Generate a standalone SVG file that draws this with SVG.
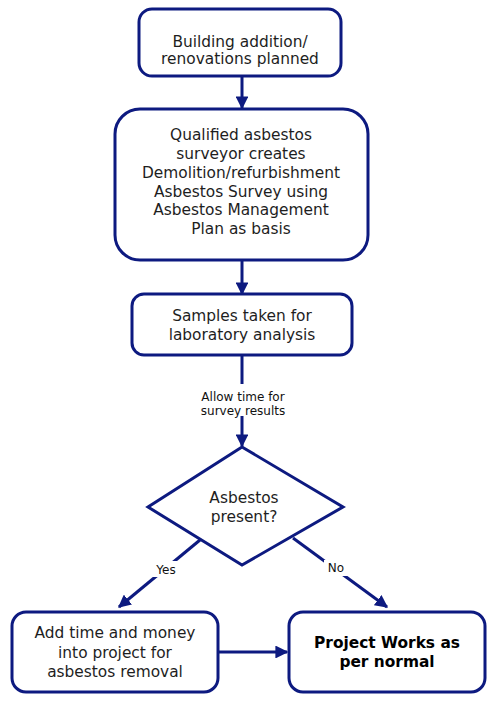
<svg xmlns="http://www.w3.org/2000/svg" width="492" height="702" viewBox="0 0 492 702">
<style>
.box{fill:#fff;stroke:#0d1a80;stroke-width:3}
.ln{fill:none;stroke:#0d1a80;stroke-width:3}
text{font-family:"DejaVu Sans",Verdana,sans-serif;fill:#1e1e1e;text-anchor:middle}
.t{font-size:15.4px}
.b{font-size:15.4px;font-weight:bold;fill:#000}
.l{font-size:12px;fill:#111}
</style>
<defs>
<marker id="ah" viewBox="0 0 10 10" refX="9" refY="5" markerWidth="4.3" markerHeight="4.3" orient="auto" markerUnits="strokeWidth">
<path d="M0,0 L10,5 L0,10 z" fill="#0d1a80"/>
</marker>
</defs>
<rect width="492" height="702" fill="#fff"/>
<g id="connectors">
<line class="ln" x1="242" y1="76" x2="242" y2="108" marker-end="url(#ah)"/>
<line class="ln" x1="242" y1="260" x2="242" y2="294" marker-end="url(#ah)"/>
<line class="ln" x1="242" y1="355" x2="242" y2="384"/>
<line class="ln" x1="242" y1="416" x2="242" y2="446" marker-end="url(#ah)"/>
<text class="l" x="243" y="401">Allow time for</text>
<text class="l" x="243" y="415">survey results</text>
<line class="ln" x1="200" y1="540" x2="119" y2="607" marker-end="url(#ah)"/>
<line class="ln" x1="293" y1="538" x2="387" y2="607" marker-end="url(#ah)"/>
<rect x="151" y="561" width="30" height="16" fill="#fff"/>
<text class="l" x="166" y="574">Yes</text>
<rect x="324" y="560" width="24" height="16" fill="#fff"/>
<text class="l" x="336" y="572">No</text>
<line class="ln" x1="218" y1="652" x2="287" y2="652" marker-end="url(#ah)"/>
</g>
<g id="n1">
<rect class="box" x="139" y="9" width="202" height="67" rx="13"/>
<text class="t" x="240" y="47">Building addition/</text>
<text class="t" x="240" y="64">renovations planned</text>
</g>
<g id="n2">
<rect class="box" x="115" y="109" width="253" height="151" rx="25"/>
<text class="t" x="241" y="140">Qualified asbestos</text>
<text class="t" x="241" y="159">surveyor creates</text>
<text class="t" x="241" y="178">Demolition/refurbishment</text>
<text class="t" x="241" y="197">Asbestos Survey using</text>
<text class="t" x="241" y="215">Asbestos Management</text>
<text class="t" x="241" y="234">Plan as basis</text>
</g>
<g id="n3">
<rect class="box" x="132" y="294" width="220" height="61" rx="12"/>
<text class="t" x="242" y="321">Samples taken for</text>
<text class="t" x="242" y="340">laboratory analysis</text>
</g>
<g id="n4">
<polygon class="box" points="242,447 343,507 242,565 148,507"/>
<text class="t" x="244" y="503">Asbestos</text>
<text class="t" x="244" y="522">present?</text>
</g>
<g id="n5">
<rect class="box" x="12" y="612" width="206" height="80" rx="14"/>
<text class="t" x="115" y="638">Add time and money</text>
<text class="t" x="115" y="658">into project for</text>
<text class="t" x="115" y="677">asbestos removal</text>
</g>
<g id="n6">
<rect class="box" x="289" y="612" width="196" height="80" rx="14"/>
<text class="b" x="387" y="648">Project Works as</text>
<text class="b" x="387" y="667">per normal</text>
</g>
</svg>
